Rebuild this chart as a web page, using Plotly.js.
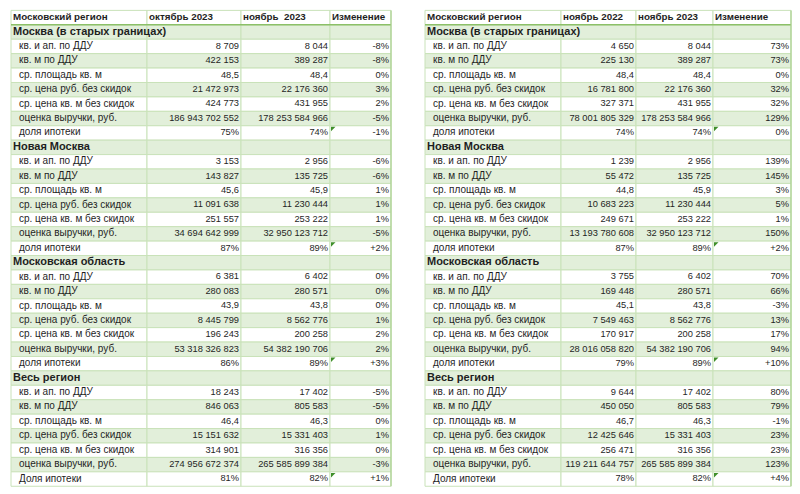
<!DOCTYPE html>
<html>
<head>
<meta charset="utf-8">
<script src="https://cdn.plot.ly/plotly-3.0.1.min.js"></script>
<style>html,body{margin:0;padding:0;background:#fff;}#chart{width:800px;height:494px;}</style>
</head>
<body>
<div id="chart"></div>
<script>
// ---------- DATA ----------
const sections = ["Москва (в старых границах)", "Новая Москва", "Московская область", "Весь регион"];
const metricLabels = ["кв. и ап. по ДДУ", "кв. м по ДДУ", "ср. площадь кв. м", "ср. цена руб. без скидок", "ср. цена кв. м без скидок", "оценка выручки, руб.", "доля ипотеки"];
const metricLabelsLast = ["кв. и ап. по ДДУ", "кв. м по ДДУ", "ср. площадь кв. м", "ср. цена руб. без скидок", "ср. цена кв. м без скидок", "оценка выручки, руб.", "Доля ипотеки"];
// metric kinds: int, dec (one decimal), pct (share, %)
const metricKinds = ["int", "int", "dec", "int", "int", "int", "pct"];

const leftHeader = ["Московский регион", "октябрь 2023", "ноябрь  2023", "Изменение"];
const rightHeader = ["Московский регион", "ноябрь 2022", "ноябрь 2023", "Изменение"];

const oct2023 = [
  8709, 422153, 48.5, 21472973, 424773, 186943702552, 75,
  3153, 143827, 45.6, 11091638, 251557, 34694642999, 87,
  6381, 280083, 43.9, 8445799, 196243, 53318326823, 86,
  18243, 846063, 46.4, 15151632, 314901, 274956672374, 81
];
const nov2023 = [
  8044, 389287, 48.4, 22176360, 431955, 178253584966, 74,
  2956, 135725, 45.9, 11230444, 253222, 32950123712, 89,
  6402, 280571, 43.8, 8562776, 200258, 54382190706, 89,
  17402, 805583, 46.3, 15331403, 316356, 265585899384, 82
];
const nov2022 = [
  4650, 225130, 48.4, 16781800, 327371, 78001805329, 74,
  1239, 55472, 44.8, 10683223, 249671, 13193780608, 87,
  3755, 169448, 45.1, 7549463, 170917, 28016058820, 79,
  9644, 450050, 46.7, 12425646, 256471, 119211644757, 78
];
const chgMonth = [
  "-8%", "-8%", "0%", "3%", "2%", "-5%", "-1%",
  "-6%", "-6%", "1%", "1%", "1%", "-5%", "+2%",
  "0%", "0%", "0%", "1%", "2%", "2%", "+3%",
  "-5%", "-5%", "0%", "1%", "0%", "-3%", "+1%"
];
const chgYear = [
  "73%", "73%", "0%", "32%", "32%", "129%", "0%",
  "139%", "145%", "3%", "5%", "1%", "150%", "+2%",
  "70%", "66%", "-3%", "13%", "17%", "94%", "+10%",
  "80%", "79%", "-1%", "23%", "23%", "123%", "+4%"
];

// ---------- STYLE / LAYOUT ----------
const colsL = [11, 147, 241, 330, 391];
const colsR = [425, 561, 636, 713, 791];
const GREEN = "#e2efda";
const GRID = "#c9e2b9";
const EDGE = "#a9d08e";
const HEAD_LINE = "#8cc068";
const TXT = "#1f1f1f";
const FONT = "'Liberation Sans', Arial, sans-serif";
const FS_HEAD = 9.8;
const FS_SECTION = 11;
const FS_LABEL = 10;
const FS_NUM = 9.3;

function fmtInt(n) {
  return String(Math.round(n)).replace(/\B(?=(\d{3})+(?!\d))/g, "\u00a0");
}
function fmtVal(v, kind) {
  if (kind === "int") return fmtInt(v);
  if (kind === "dec") return v.toFixed(1).replace(".", ",");
  return v + "%";
}

const traces = [];

function textTrace(x, y, t, pos, size) {
  return {
    type: "scatter", mode: "text", x: x, y: y, text: t, textposition: pos,
    textfont: {family: FONT, size: size, color: TXT}, hoverinfo: "skip", showlegend: false, cliponaxis: false
  };
}

function buildTable(cols, header, colA, colB, chg) {
  const rows = [];
  rows.push({type: "header", cells: header});
  sections.forEach((s, si) => {
    rows.push({type: "section", cells: [s, "", "", ""]});
    const labels = si === sections.length - 1 ? metricLabelsLast : metricLabels;
    labels.forEach((lab, mi) => {
      const k = si * 7 + mi;
      rows.push({
        type: "metric", mi: mi,
        cells: [lab, fmtVal(colA[k], metricKinds[mi]), fmtVal(colB[k], metricKinds[mi]), chg[k]]
      });
    });
  });

  // cell backgrounds and borders (bars)
  const by = [], bbase = [], bx = [], bcol = [];
  rows.forEach((r, i) => {
    let fill = "#ffffff";
    if (r.type === "section") fill = GREEN;
    if (r.type === "metric" && r.mi % 2 === 1) fill = GREEN;
    for (let c = 0; c < 4; c++) {
      by.push(i); bbase.push(cols[c]); bx.push(cols[c + 1] - cols[c]); bcol.push(fill);
    }
  });
  traces.push({
    type: "bar", orientation: "h", y: by, x: bx, base: bbase, width: 1,
    marker: {color: bcol, line: {color: GRID, width: 1}},
    hoverinfo: "skip", showlegend: false
  });

  // header underline and right edge
  traces.push({
    type: "scatter", mode: "lines", x: [cols[0], cols[4]], y: [0.5, 0.5],
    line: {color: HEAD_LINE, width: 1.6}, hoverinfo: "skip", showlegend: false
  });
  traces.push({
    type: "scatter", mode: "lines", x: [cols[4], cols[4]], y: [-0.5, rows.length - 0.5],
    line: {color: EDGE, width: 1.2}, hoverinfo: "skip", showlegend: false
  });

  const hx = [], hy = [], ht = [];     // header, bold
  const sx = [], sy = [], st = [];     // sections, bold
  const lx = [], ly = [], lt = [];     // labels
  const rx = [], ry = [], rt = [];     // numbers, right aligned
  rows.forEach((r, i) => {
    if (r.type === "header") {
      for (let c = 0; c < 4; c++) {
        hx.push(cols[c] + 2); hy.push(i); ht.push("<b>" + r.cells[c] + "</b>");
      }
    } else if (r.type === "section") {
      sx.push(cols[0] + 2); sy.push(i); st.push("<b>" + r.cells[0] + "</b>");
    } else {
      lx.push(cols[0] + 8); ly.push(i); lt.push(r.cells[0]);
      for (let c = 1; c < 4; c++) {
        rx.push(cols[c + 1] - 2); ry.push(i); rt.push(r.cells[c]);
      }
    }
  });
  traces.push(textTrace(hx, hy, ht, "middle right", FS_HEAD));
  traces.push(textTrace(sx, sy, st, "middle right", FS_SECTION));
  traces.push(textTrace(lx, ly, lt, "middle right", FS_LABEL));
  traces.push(textTrace(rx, ry, rt, "middle left", FS_NUM));

  // Excel comment markers on the mortgage-share cells
  const mx = [], my = [];
  rows.forEach((r, i) => {
    if (r.type === "metric" && metricKinds[r.mi] === "pct") { mx.push(cols[3] + 2.5); my.push(i - 0.32); }
  });
  traces.push({
    type: "scatter", mode: "markers", x: mx, y: my,
    marker: {symbol: "triangle-nw", size: 5, color: "#3f8f2a"},
    hoverinfo: "skip", showlegend: false
  });
  return rows.length;
}

buildTable(colsL, leftHeader, oct2023, nov2023, chgMonth);
buildTable(colsR, rightHeader, nov2022, nov2023, chgYear);

// y mapping: row i centre at pixel 17.6 + 14.42*i
const c0 = 17.6, rh = 14.42, H = 494;
const yTop = -c0 / rh, yBot = (H - c0) / rh;

const layout = {
  width: 800, height: H,
  margin: {l: 0, r: 0, t: 0, b: 0},
  paper_bgcolor: "#ffffff", plot_bgcolor: "#ffffff",
  barmode: "overlay", bargap: 0,
  xaxis: {range: [0, 800], visible: false, fixedrange: true},
  yaxis: {range: [yBot, yTop], visible: false, fixedrange: true},
  showlegend: false
};

Plotly.newPlot("chart", traces, layout, {staticPlot: true, displayModeBar: false});
</script>
</body>
</html>
